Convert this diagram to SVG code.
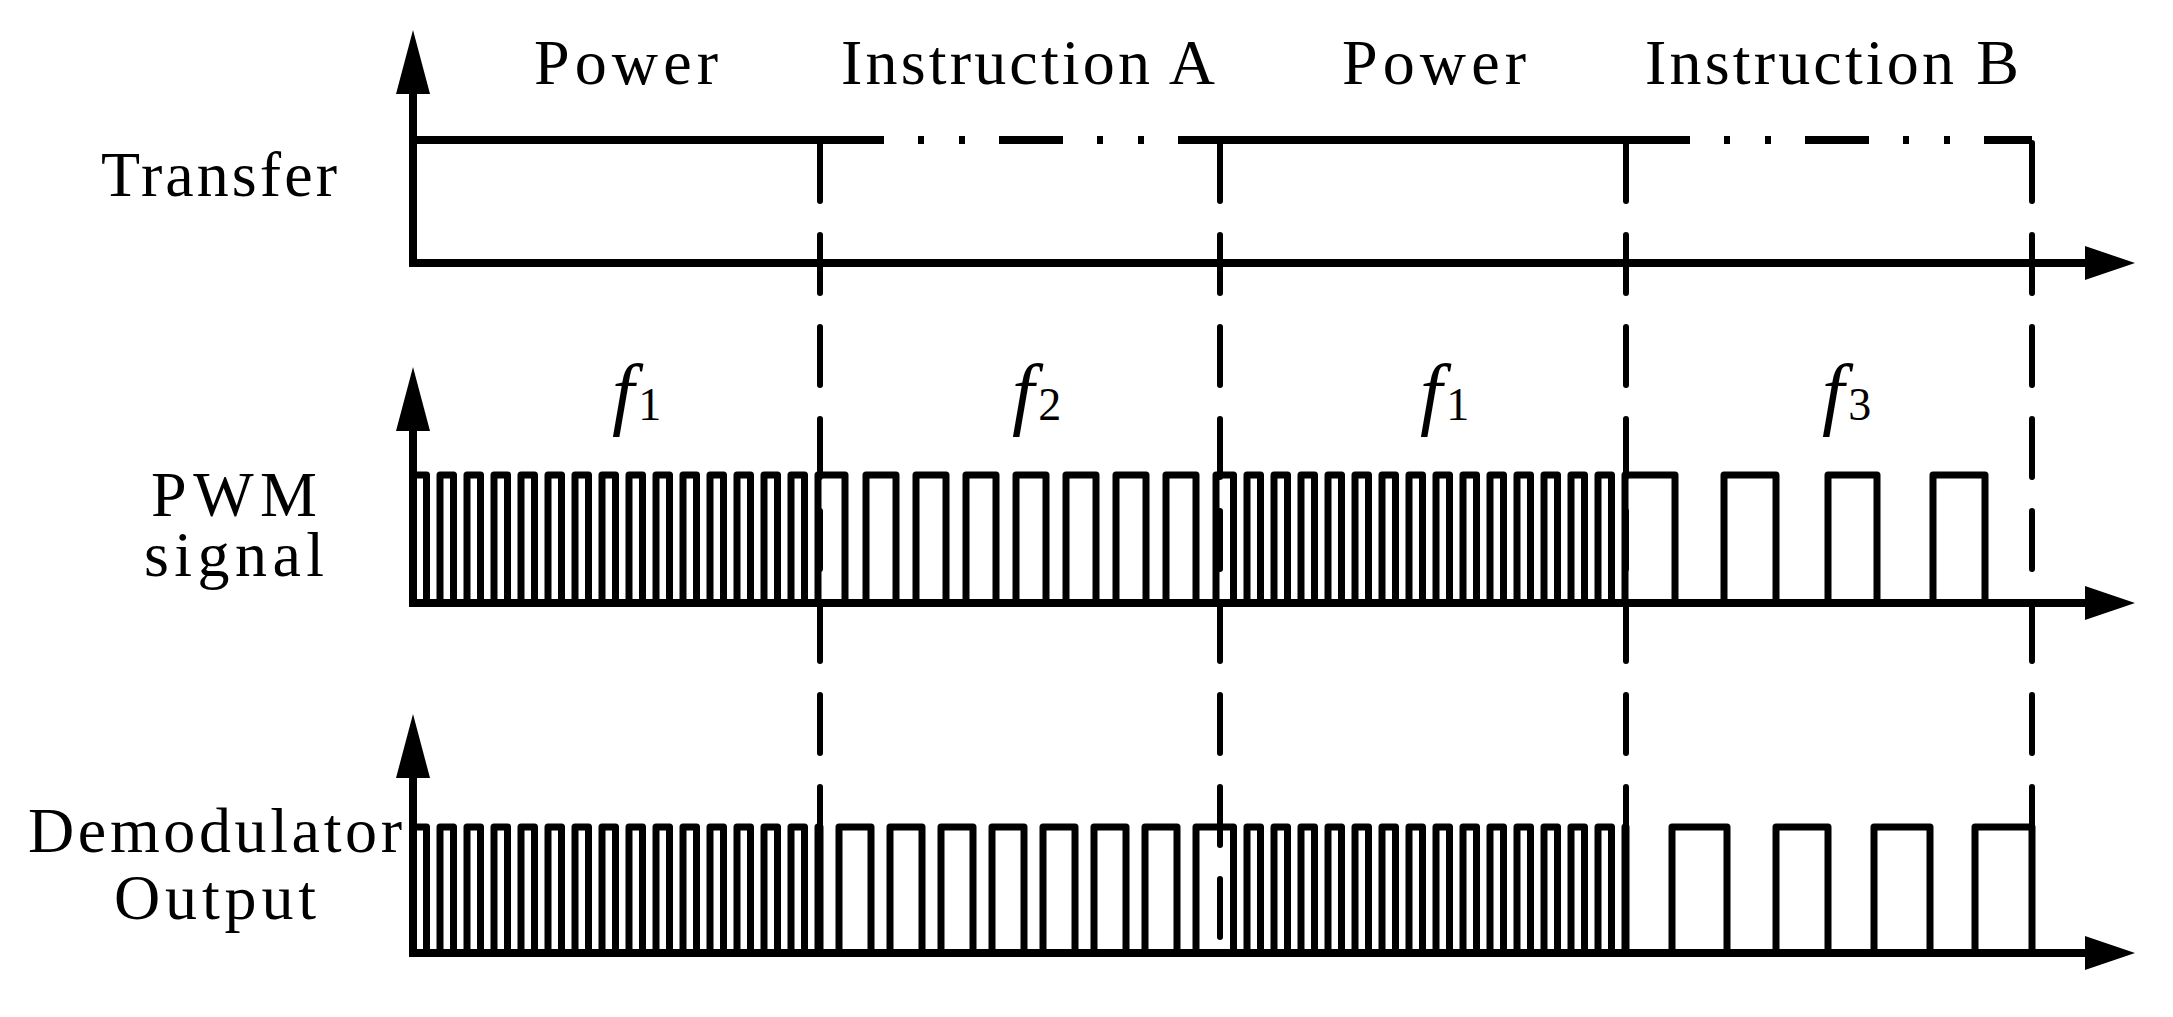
<svg xmlns="http://www.w3.org/2000/svg" width="2173" height="1017" viewBox="0 0 2173 1017">
<style>
.ax{fill:none;stroke:#000;stroke-width:8}
.wv{fill:none;stroke:#000;stroke-width:7;stroke-linejoin:round}
.dv{fill:none;stroke:#000;stroke-width:6;stroke-dasharray:58 34;stroke-linecap:round}
.dd{fill:none;stroke:#000;stroke-width:8;stroke-dasharray:64 34 6 35 6 34}
.t{font-family:"Liberation Serif",serif;font-size:64px;fill:#000}
.f{font-family:"Liberation Serif",serif;font-size:80px;font-style:italic;fill:#000}
.s{font-size:46px;font-style:normal}
.ah{fill:#000}
</style>
<rect width="2173" height="1017" fill="#fff"/>
<g id="labels">
<text class="t" x="626" y="84" text-anchor="middle" textLength="184">Power</text>
<text class="t" x="1028" y="84" text-anchor="middle" textLength="374">Instruction A</text>
<text class="t" x="1434" y="84" text-anchor="middle" textLength="184">Power</text>
<text class="t" x="1832" y="84" text-anchor="middle" textLength="374">Instruction B</text>
<text class="t" x="101" y="196" textLength="236">Transfer</text>
<text class="t" x="234" y="516" text-anchor="middle" textLength="166">PWM</text>
<text class="t" x="234" y="576" text-anchor="middle" textLength="180">signal</text>
<text class="t" x="28" y="852" textLength="374">Demodulator</text>
<text class="t" x="215" y="919" text-anchor="middle" textLength="202">Output</text>
<text class="f" x="612" y="420">f<tspan class="s" dx="4">1</tspan></text>
<text class="f" x="1012" y="420">f<tspan class="s" dx="4">2</tspan></text>
<text class="f" x="1420" y="420">f<tspan class="s" dx="4">1</tspan></text>
<text class="f" x="1822" y="420">f<tspan class="s" dx="4">3</tspan></text>
</g>
<g id="axes">
<path class="ax" d="M413,80 V263 H2095"/>
<path class="ax" d="M413,420 V603 H2095"/>
<path class="ax" d="M413,765 V953 H2095"/>
<polygon class="ah" points="413,30 396,94 430,94"/>
<polygon class="ah" points="413,367 396,431 430,431"/>
<polygon class="ah" points="413,714 396,778 430,778"/>
<polygon class="ah" points="2135,263 2085,246 2085,280"/>
<polygon class="ah" points="2135,603 2085,586 2085,620"/>
<polygon class="ah" points="2135,953 2085,936 2085,970"/>
</g>
<g id="transfer">
<path class="ax" d="M413,140 H820"/>
<path class="dd" d="M820,140 H1220"/>
<path class="ax" d="M1220,140 H1626"/>
<path class="dd" d="M1626,140 H2032"/>
</g>
<g id="dividers">
<path class="dv" d="M820,143 V953 M1220,143 V953 M1626,143 V953 M2032,143 V953"/>
</g>
<g id="pwm">
<path class="wv" d="M413,475 h13.5 v128 h13.5 v-128 h13.5 v128 h13.5 v-128 h13.5 v128 h13.5 v-128 h13.5 v128 h13.5 v-128 h13.5 v128 h13.5 v-128 h13.5 v128 h13.5 v-128 h13.5 v128 h13.5 v-128 h13.5 v128 h13.5 v-128 h13.5 v128 h13.5 v-128 h13.5 v128 h13.5 v-128 h13.5 v128 h13.5 v-128 h13.5 v128 h13.5 v-128 h13.5 v128 h13.5 v-128 h13.5 v128 h13.5 v-128 h13.5 v128 h13.5 v-128 h27 v128 h21 v-128 h30 v128 h20 v-128 h30 v128 h20 v-128 h30 v128 h20 v-128 h30 v128 h20 v-128 h30 v128 h20 v-128 h30 v128 h20 v-128 h30 v128 h20 v-128 h4 h13.5 v128 h13.5 v-128 h13.5 v128 h13.5 v-128 h13.5 v128 h13.5 v-128 h13.5 v128 h13.5 v-128 h13.5 v128 h13.5 v-128 h13.5 v128 h13.5 v-128 h13.5 v128 h13.5 v-128 h13.5 v128 h13.5 v-128 h13.5 v128 h13.5 v-128 h13.5 v128 h13.5 v-128 h13.5 v128 h13.5 v-128 h13.5 v128 h13.5 v-128 h13.5 v128 h13.5 v-128 h13.5 v128 h13.5 v-128 h13.5 v128 h13.5 v-128 h50 v128 h49 v-128 h52 v128 h52 v-128 h49 v128 h56 v-128 h52 v128"/>
</g>
<g id="demod">
<path class="wv" d="M413,827 h13.5 v126 h13.5 v-126 h13.5 v126 h13.5 v-126 h13.5 v126 h13.5 v-126 h13.5 v126 h13.5 v-126 h13.5 v126 h13.5 v-126 h13.5 v126 h13.5 v-126 h13.5 v126 h13.5 v-126 h13.5 v126 h13.5 v-126 h13.5 v126 h13.5 v-126 h13.5 v126 h13.5 v-126 h13.5 v126 h13.5 v-126 h13.5 v126 h13.5 v-126 h13.5 v126 h13.5 v-126 h13.5 v126 h13.5 v-126 h13.5 v126 h13.5 v-126 h2 v126 h19 v-126 h32 v126 h19 v-126 h32 v126 h19 v-126 h32 v126 h19 v-126 h32 v126 h19 v-126 h32 v126 h19 v-126 h32 v126 h19 v-126 h32 v126 h19 v-126 h24 h13.5 v126 h13.5 v-126 h13.5 v126 h13.5 v-126 h13.5 v126 h13.5 v-126 h13.5 v126 h13.5 v-126 h13.5 v126 h13.5 v-126 h13.5 v126 h13.5 v-126 h13.5 v126 h13.5 v-126 h13.5 v126 h13.5 v-126 h13.5 v126 h13.5 v-126 h13.5 v126 h13.5 v-126 h13.5 v126 h13.5 v-126 h13.5 v126 h13.5 v-126 h13.5 v126 h13.5 v-126 h13.5 v126 h13.5 v-126 h13.5 v126 h13.5 v-126 h1 v126 h46 v-126 h55 v126 h49 v-126 h52 v126 h46 v-126 h56 v126 h45 v-126 h57 v126"/>
</g>
</svg>
